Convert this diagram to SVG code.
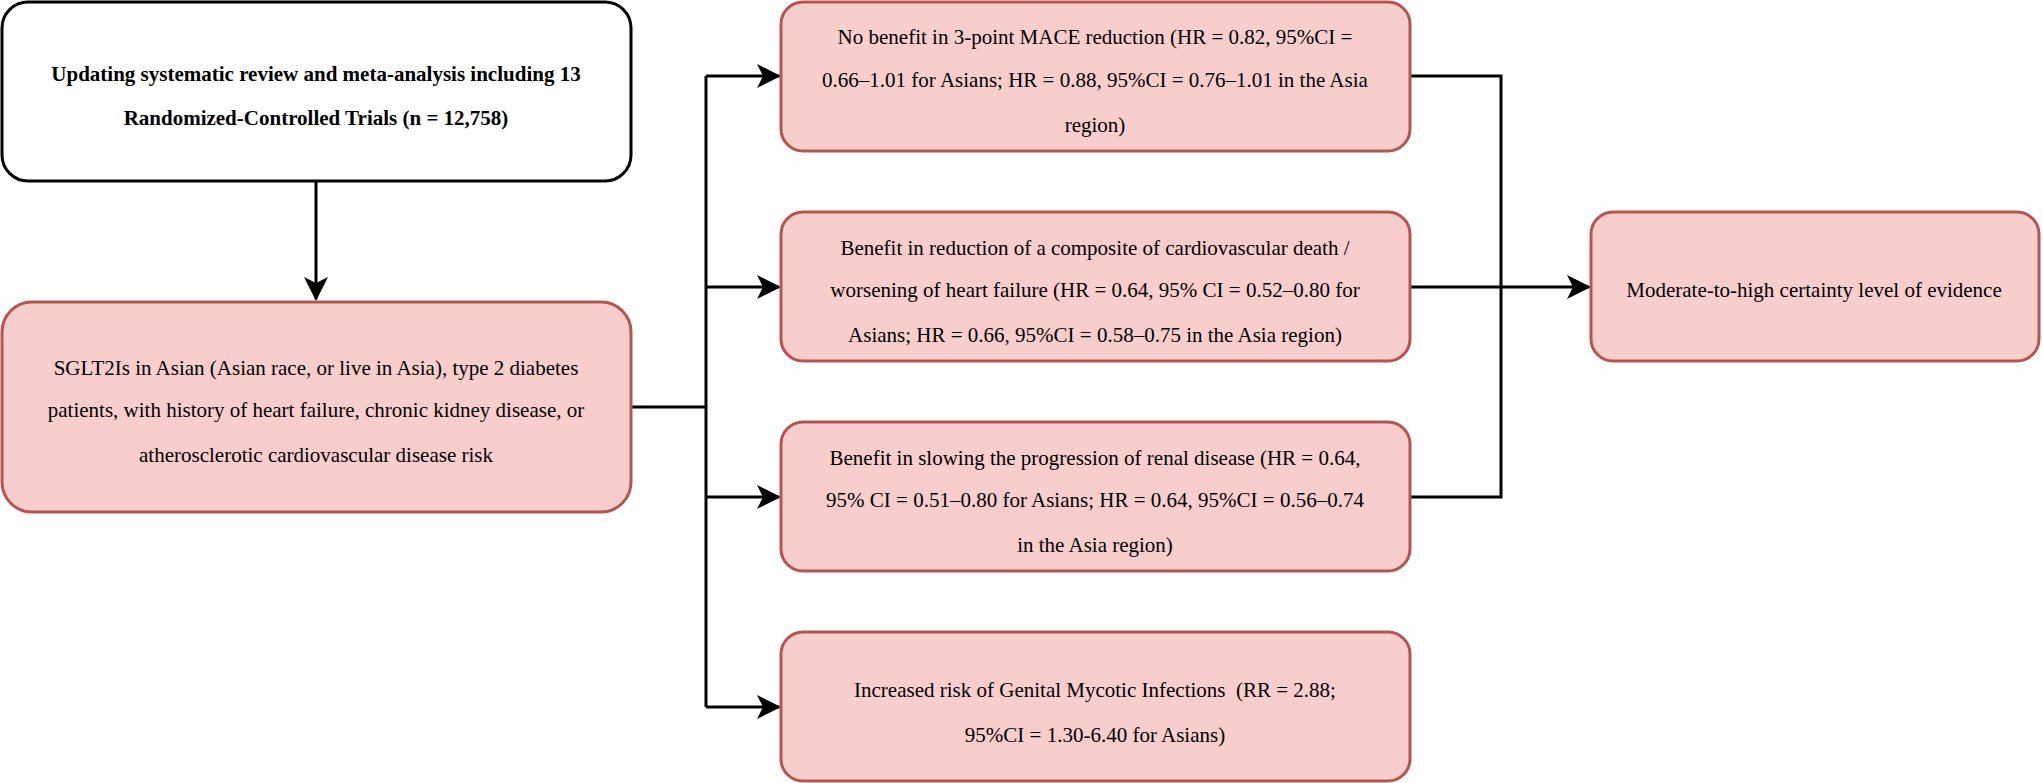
<svg xmlns="http://www.w3.org/2000/svg" width="2043" height="783" viewBox="0 0 2043 783">
<style>
.n{fill:#f8cecc;stroke:#b85450;stroke-width:3}
.w{fill:#fff;stroke:#000;stroke-width:3}
text{font-family:"Liberation Serif","Times New Roman",serif;font-size:21px;text-anchor:middle;dominant-baseline:central;fill:#000}
.b{font-weight:bold}
.c{fill:none;stroke:#000;stroke-width:3}
</style>
<defs><marker id="a" markerWidth="10" markerHeight="10" refX="9" refY="5" orient="auto" markerUnits="userSpaceOnUse" viewBox="0 0 10 10"><path d="M0,0 L10,5 L0,10 L3,5 Z" fill="#000"/></marker>
<marker id="m" markerWidth="24" markerHeight="24" refX="22" refY="12" orient="auto" markerUnits="userSpaceOnUse" viewBox="0 0 24 24"><path d="M0,0 L24,12 L0,24 L6,12 Z" fill="#000"/></marker></defs>
<g id="connectors">
<path class="c" d="M316,181 V299" marker-end="url(#m)"/>
<path class="c" d="M631,407 H706"/>
<path class="c" d="M706,76 V707"/>
<path class="c" d="M706,76 H779" marker-end="url(#m)"/>
<path class="c" d="M706,287 H779" marker-end="url(#m)"/>
<path class="c" d="M706,497 H779" marker-end="url(#m)"/>
<path class="c" d="M706,707 H779" marker-end="url(#m)"/>
<path class="c" d="M1410,76 H1501 V497 H1410"/>
<path class="c" d="M1410,287 H1589" marker-end="url(#m)"/>
</g>
<g id="n1"><rect class="w" x="2" y="2" width="629" height="179" rx="26"/>
<text class="b" x="316" y="74">Updating systematic review and meta-analysis including 13</text>
<text class="b" x="316" y="118">Randomized-Controlled Trials (n = 12,758)</text></g>
<g id="n2"><rect class="n" x="2" y="302" width="629" height="210" rx="30"/>
<text x="316" y="368">SGLT2Is in Asian (Asian race, or live in Asia), type 2 diabetes</text>
<text x="316" y="410">patients, with history of heart failure, chronic kidney disease, or</text>
<text x="316" y="455">atherosclerotic cardiovascular disease risk</text></g>
<g id="n3"><rect class="n" x="781" y="2" width="629" height="149" rx="22"/>
<text x="1095" y="37">No benefit in 3-point MACE reduction (HR = 0.82, 95%CI =</text>
<text x="1095" y="80">0.66–1.01 for Asians; HR = 0.88, 95%CI = 0.76–1.01 in the Asia</text>
<text x="1095" y="125">region)</text></g>
<g id="n4"><rect class="n" x="781" y="212" width="629" height="149" rx="22"/>
<text x="1095" y="248">Benefit in reduction of a composite of cardiovascular death /</text>
<text x="1095" y="290">worsening of heart failure (HR = 0.64, 95% CI = 0.52–0.80 for</text>
<text x="1095" y="335">Asians; HR = 0.66, 95%CI = 0.58–0.75 in the Asia region)</text></g>
<g id="n5"><rect class="n" x="781" y="422" width="629" height="149" rx="22"/>
<text x="1095" y="458">Benefit in slowing the progression of renal disease (HR = 0.64,</text>
<text x="1095" y="500">95% CI = 0.51–0.80 for Asians; HR = 0.64, 95%CI = 0.56–0.74</text>
<text x="1095" y="545">in the Asia region)</text></g>
<g id="n6"><rect class="n" x="781" y="632" width="629" height="149" rx="22"/>
<text x="1095" y="690" xml:space="preserve">Increased risk of Genital Mycotic Infections  (RR = 2.88;</text>
<text x="1095" y="735">95%CI = 1.30-6.40 for Asians)</text></g>
<g id="n7"><rect class="n" x="1591" y="212" width="448" height="149" rx="22"/>
<text x="1814" y="290">Moderate-to-high certainty level of evidence</text></g>
</svg>
